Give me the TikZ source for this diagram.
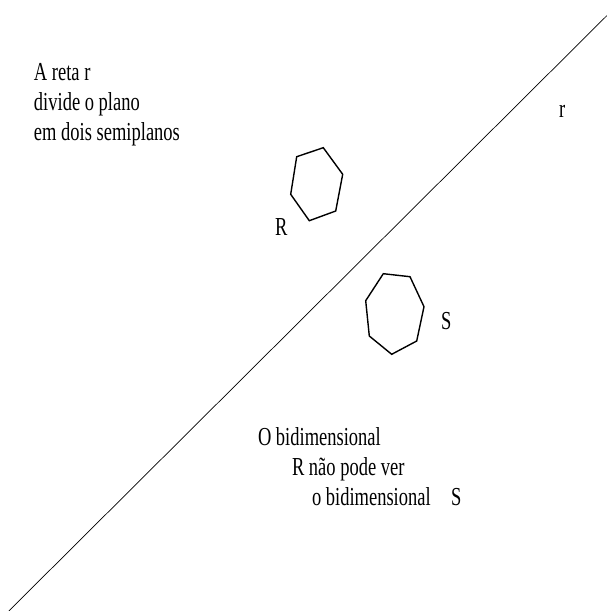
\documentclass[tikz,border=0pt]{standalone}
\usepackage{fontspec}
\setmainfont{Liberation Serif}
\usepackage{graphicx}
\newcommand{\tallt}[1]{\scalebox{1}[1.4]{#1}}
\tikzset{
  lbl/.style={anchor=base west, inner sep=0pt, outer sep=0pt, font=\fontsize{18.5}{20}\selectfont},
  poly/.style={line width=1.4pt, line join=miter},
  reta/.style={line width=0.7pt}
}
\begin{document}
\begin{tikzpicture}[x=1pt,y=-1pt]
\useasboundingbox (0,0) rectangle (607,611);
% line r
\coordinate (l1) at (8.8,611);
\coordinate (l2) at (607,15.5);
\draw[reta] (l1) -- (l2);
% hexagon R
\draw[poly] (296.7,156.7) -- (323.3,147.7) -- (342.7,174.3) -- (335.7,211) -- (309.3,220.7) -- (290.7,194.3) -- cycle;
% heptagon S
\draw[poly] (383.3,273.7) -- (410,276.7) -- (424,306.7) -- (416.7,341) -- (391.7,354.3) -- (369.3,336) -- (365.7,300.7) -- cycle;
% texts
\node[lbl] (t1) at (34,80) {\tallt{A reta r}};
\node[lbl] (t2) at (34,110) {\tallt{divide o plano}};
\node[lbl] (t3) at (34,140) {\tallt{em dois semiplanos}};
\node[lbl] (tr) at (559,117) {\tallt{r}};
\node[lbl] (tR) at (275,235) {\tallt{R}};
\node[lbl] (tS) at (441,329) {\tallt{S}};
\node[lbl] (b1) at (258,445) {\tallt{O bidimensional}};
\node[lbl] (b2) at (292,475) {\tallt{R não pode ver}};
\node[lbl] (b3) at (312,505) {\tallt{o bidimensional}};
\node[lbl] (b4) at (451,505) {\tallt{S}};
\end{tikzpicture}
\end{document}
